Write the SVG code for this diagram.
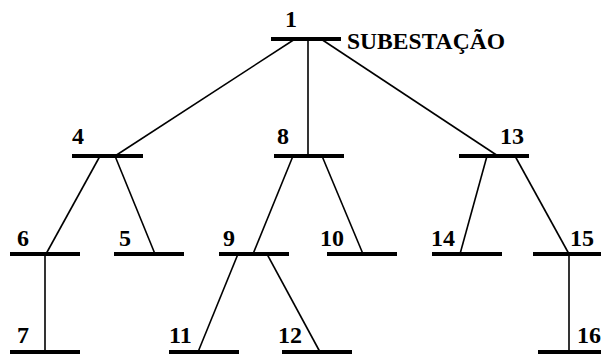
<svg xmlns="http://www.w3.org/2000/svg" width="601" height="354" viewBox="0 0 601 354">
<style>
.bus{stroke:#000;stroke-width:4;}
.ln{stroke:#000;stroke-width:1.6;fill:none;}
.lbl{font-family:"Liberation Serif","Times New Roman",Times,serif;font-weight:bold;font-size:24px;fill:#000;}
</style>
<rect width="601" height="354" fill="#fff"/>
<g id="connectors">
<line class="ln" x1="295" y1="39" x2="115" y2="156"/>
<line class="ln" x1="308" y1="39" x2="308" y2="156"/>
<line class="ln" x1="321" y1="39" x2="498" y2="156"/>
<line class="ln" x1="100" y1="156" x2="46" y2="254"/>
<line class="ln" x1="115" y1="156" x2="155" y2="254"/>
<line class="ln" x1="293" y1="156" x2="253" y2="254"/>
<line class="ln" x1="322" y1="156" x2="363" y2="254"/>
<line class="ln" x1="487" y1="156" x2="460" y2="254"/>
<line class="ln" x1="515" y1="156" x2="569" y2="254"/>
<line class="ln" x1="45" y1="254" x2="45" y2="352"/>
<line class="ln" x1="238" y1="254" x2="198" y2="352"/>
<line class="ln" x1="267" y1="254" x2="320" y2="352"/>
<line class="ln" x1="569" y1="254" x2="569" y2="352"/>
</g>
<g id="bus1"><line class="bus" x1="271" y1="39" x2="341" y2="39"/><text class="lbl" x="285" y="27">1</text><text class="lbl" x="347" y="49" font-size="23" textLength="158" lengthAdjust="spacingAndGlyphs">SUBESTAÇÃO</text></g>
<g id="bus4"><line class="bus" x1="72" y1="156" x2="143" y2="156"/><text class="lbl" x="72" y="144">4</text></g>
<g id="bus8"><line class="bus" x1="274" y1="156" x2="344" y2="156"/><text class="lbl" x="277" y="144">8</text></g>
<g id="bus13"><line class="bus" x1="459" y1="156" x2="529" y2="156"/><text class="lbl" x="500" y="144">13</text></g>
<g id="bus6"><line class="bus" x1="10" y1="254" x2="80" y2="254"/><text class="lbl" x="17" y="246">6</text></g>
<g id="bus5"><line class="bus" x1="114" y1="254" x2="184" y2="254"/><text class="lbl" x="119" y="246">5</text></g>
<g id="bus9"><line class="bus" x1="219" y1="254" x2="289" y2="254"/><text class="lbl" x="223" y="246">9</text></g>
<g id="bus10"><line class="bus" x1="327" y1="254" x2="397" y2="254"/><text class="lbl" x="320" y="246">10</text></g>
<g id="bus14"><line class="bus" x1="432" y1="254" x2="502" y2="254"/><text class="lbl" x="431" y="246">14</text></g>
<g id="bus15"><line class="bus" x1="533" y1="254" x2="603" y2="254"/><text class="lbl" x="570" y="246">15</text></g>
<g id="bus7"><line class="bus" x1="10" y1="352" x2="80" y2="352"/><text class="lbl" x="17" y="343">7</text></g>
<g id="bus11"><line class="bus" x1="169" y1="352" x2="239" y2="352"/><text class="lbl" x="169" y="343">11</text></g>
<g id="bus12"><line class="bus" x1="282" y1="352" x2="352" y2="352"/><text class="lbl" x="278" y="343">12</text></g>
<g id="bus16"><line class="bus" x1="538" y1="352" x2="608" y2="352"/><text class="lbl" x="577" y="343">16</text></g>
</svg>
